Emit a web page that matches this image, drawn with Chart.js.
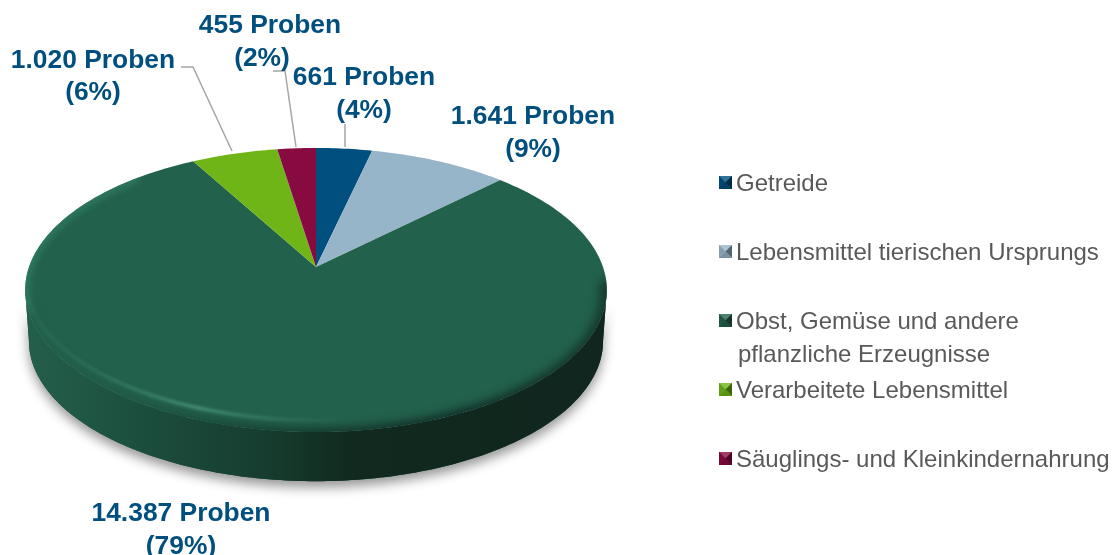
<!DOCTYPE html>
<html><head><meta charset="utf-8">
<style>html,body{margin:0;padding:0;background:#fff}canvas{display:block}</style>
<script src="https://cdn.jsdelivr.net/npm/chart.js@4"></script>
</head><body><canvas id="c" width="1116" height="555"></canvas>
<script>
const categories = ["Getreide","Lebensmittel tierischen Ursprungs","Obst, Gemüse und andere|pflanzliche Erzeugnisse","Verarbeitete Lebensmittel","Säuglings- und Kleinkindernahrung"];
const values = [661,1641,14387,1020,455];
const valueLabels = ["661 Proben","1.641 Proben","14.387 Proben","1.020 Proben","455 Proben"];
const percentLabels = ["(4%)","(9%)","(79%)","(6%)","(2%)"];
const colors = ["#004f7e","#97b5c9","#22614c","#70b517","#870b41"];

// layout only
const P = {cx:316, cy:267, A:287, B:138.3, p:0.162, depth:51, back:0.987, midY:290};
const labelPos = [[364,85,364,118],[533,124,533,157],[181,521,181,554],[93,68,93,100],[270,33,262,66]];
const legendY = [176,245,314,383,452];
const leaders = [[[345,124],[345,147]],[[181,67],[193,67],[232,151]],[[273,71],[285,71],[296,147]]];
const FONT = '"Liberation Sans", Arial, sans-serif';

function topPt(a){const w=1-P.p*Math.sin(a);return [P.cx+P.A*Math.cos(a)/w,P.cy+P.B*Math.sin(a)/w];}
function botPt(a){const t=topPt(a);return [P.cx+(t[0]-P.cx)*P.back,P.midY+P.depth+(t[1]-P.midY)*P.back];}
function mix(hex,t,to){const n=parseInt(hex.slice(1),16);const c=[n>>16,(n>>8)&255,n&255];const d=to?255:0;
  return 'rgb('+c.map(v=>Math.round(v+(d-v)*t)).join(',')+')';}
function grad(ctx,stops){const g=ctx.createLinearGradient(25,0,607,0);stops.forEach(s=>g.addColorStop(s[0],s[1]));return g;}

const pie3d = {
  id:'pie3d',
  beforeDatasetsDraw(chart){
    const ctx=chart.ctx, arcs=chart.getDatasetMeta(0).data;
    const aR=Math.asin(P.p), aL=Math.PI-aR, N=160;
    const sidePath=()=>{ctx.beginPath();
      for(let i=0;i<=N;i++){const t=topPt(aR+(aL-aR)*i/N);i?ctx.lineTo(t[0],t[1]):ctx.moveTo(t[0],t[1]);}
      for(let i=N;i>=0;i--){const t=botPt(aR+(aL-aR)*i/N);ctx.lineTo(t[0],t[1]);}
      ctx.closePath();};
    const rim=(a0,a1,dy)=>{const n=Math.max(8,Math.ceil(Math.abs(a1-a0)*60));
      for(let i=0;i<=n;i++){const t=topPt(a0+(a1-a0)*i/n);ctx.lineTo(t[0],t[1]+(dy||0));}};
    // soft shadow
    ctx.save();ctx.shadowColor='rgba(0,0,0,0.42)';ctx.shadowBlur=12;ctx.shadowOffsetY=6;ctx.fillStyle='#1a4a3a';sidePath();ctx.fill();ctx.restore();
    // side wall
    ctx.save();sidePath();
    ctx.fillStyle=grad(ctx,[[0,'#245f4c'],[0.2,'#1c4e3d'],[0.42,'#163c2e'],[0.56,'#11291f'],[1,'#10261e']]);ctx.fill();ctx.restore();
    // top face slices, angles from the library's arc elements
    arcs.forEach((el,i)=>{
      ctx.beginPath();ctx.moveTo(P.cx,P.cy);rim(el.startAngle,el.endAngle);ctx.closePath();
      ctx.fillStyle=colors[i];ctx.fill();
    });
    // bevel on the large slice
    const g=arcs[2];
    ctx.save();
    ctx.beginPath();ctx.moveTo(P.cx,P.cy);rim(g.startAngle,g.endAngle);ctx.closePath();ctx.clip();
    ctx.lineJoin='round';ctx.lineCap='round';
    // lighter edge on the far left
    ctx.filter='blur(3px)';
    ctx.beginPath();rim(aL-0.15,Math.PI*1.25,0);ctx.lineWidth=10;
    ctx.strokeStyle='rgba(48,125,100,0.75)';ctx.stroke();
    // dark front edge
    ctx.filter='blur(4px)';
    ctx.beginPath();rim(0.12,aL-0.12,3);ctx.lineWidth=15;
    ctx.strokeStyle=grad(ctx,[[0.03,'rgba(34,96,76,0.5)'],[0.28,'#1c4f3e'],[0.5,'#163a2d'],[0.75,'#12302a'],[1,'rgba(18,48,38,0.75)']]);ctx.stroke();
    // highlight on the front left
    ctx.filter='blur(1.5px)';
    ctx.beginPath();rim(aL-0.02,Math.PI*0.42,-12);ctx.lineWidth=3.5;
    ctx.strokeStyle=grad(ctx,[[0,'rgba(60,135,110,0.15)'],[0.12,'rgba(60,135,110,0.4)'],[0.3,'rgba(75,150,125,0.85)'],[0.45,'rgba(60,130,105,0.45)'],[0.6,'rgba(40,100,80,0)']]);ctx.stroke();
    ctx.restore();
    return false;
  },
  afterDraw(chart){
    const ctx=chart.ctx;
    ctx.save();
    // leader lines
    ctx.strokeStyle='#a6a6a6';ctx.lineWidth=1.5;
    leaders.forEach(l=>{ctx.beginPath();l.forEach((p,i)=>i?ctx.lineTo(p[0],p[1]):ctx.moveTo(p[0],p[1]));ctx.stroke();});
    // data labels
    ctx.fillStyle='#004f7e';ctx.textAlign='center';ctx.textBaseline='alphabetic';
    ctx.font='bold 26.4px '+FONT;
    values.forEach((v,i)=>{const q=labelPos[i];
      ctx.fillText(valueLabels[i],q[0],q[1]);ctx.fillText(percentLabels[i],q[2],q[3]);});
    // legend
    const S=13;
    categories.forEach((c,i)=>{const x=719,y=legendY[i],col=colors[i],mx=x+S/2,my=y+S/2;
      const tri=(a,b,f)=>{ctx.beginPath();ctx.moveTo(a[0],a[1]);ctx.lineTo(b[0],b[1]);ctx.lineTo(mx,my);ctx.closePath();ctx.fillStyle=f;ctx.fill();};
      const tl=[x,y],tr=[x+S,y],br=[x+S,y+S],bl=[x,y+S];
      ctx.fillStyle=col;ctx.fillRect(x,y,S,S);
      tri(tl,tr,mix(col,0.2,true));tri(tr,br,mix(col,0.45));tri(br,bl,mix(col,0.2));tri(bl,tl,mix(col,0.12));
      ctx.fillStyle='#595959';ctx.textAlign='left';ctx.font='24px '+FONT;
      const lines=c.split('|');
      lines.forEach((t,j)=>ctx.fillText(t,736+(j?2:0),y+15+j*33));
    });
    ctx.restore();
  }
};

new Chart(document.getElementById('c'),{
  type:'pie',
  data:{labels:categories.map(c=>c.replace('|',' ')),datasets:[{data:values,backgroundColor:colors,borderWidth:0}]},
  options:{responsive:false,animation:false,rotation:0,
    layout:{padding:{left:25,right:509,top:148,bottom:71}},
    plugins:{legend:{display:false},tooltip:{enabled:false}}},
  plugins:[pie3d]
});
</script></body></html>
